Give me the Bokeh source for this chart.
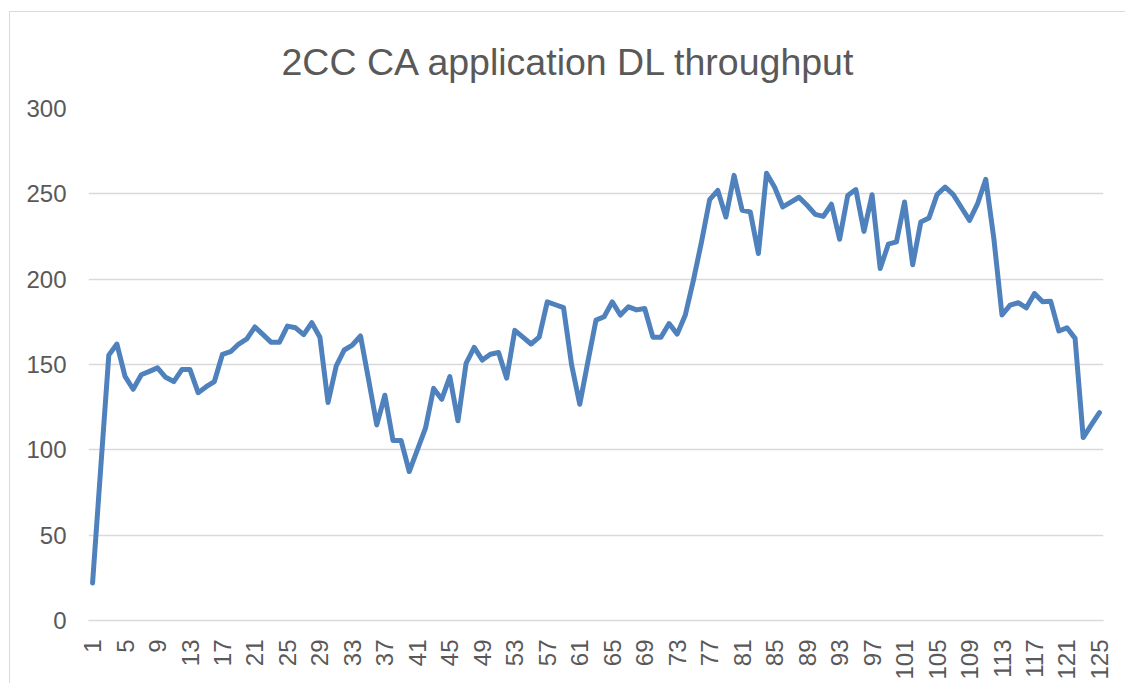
import math
from bokeh.plotting import figure
from bokeh.models import ColumnDataSource, FixedTicker, Range1d
from bokeh.embed import file_html
from bokeh.resources import INLINE

# ---- data ----
categories = list(range(1, 126))
throughput = [
    22, 89, 155.5, 162, 143, 135.5, 144, 146, 148, 142.5,
    140, 147, 147, 133.5, 137, 140, 156, 157.5, 162, 165,
    172, 167.5, 163, 163, 172.5, 171.5, 167.5, 174.5, 166, 127.7,
    149, 158.5, 161.4, 166.7, 141, 114.6, 132, 105.4, 105.4, 87.3,
    100, 112.7, 136, 129.6, 142.9, 117, 150.7, 160, 152.6, 156,
    157, 142, 170, 166, 162, 166, 186.7, 185, 183.3, 149.7,
    126.7, 151.6, 176, 178, 186.7, 179, 183.8, 182, 182.8, 166,
    166, 174, 167.8, 179, 199.4, 222, 246.6, 252, 236.4, 260.8,
    240.4, 239.4, 215, 262, 253.9, 242.3, 245.2, 248, 243.3, 238,
    236.8, 243.9, 223.4, 249, 252.5, 228, 249.5, 206.2, 220.5, 221.8,
    245.2, 208.5, 233.5, 235.8, 249.5, 254, 249.5, 242, 234.5, 244.3,
    258.5, 223.7, 179, 184.8, 186.2, 183.2, 191.6, 186.7, 187, 169.6,
    171.5, 165.3, 107.2, 114.6, 121.8,
]
x_tick_labels = list(range(1, 126, 4))
y_ticks = [0, 50, 100, 150, 200, 250, 300]
title_text = "2CC CA application DL throughput"

TEXT = "#595959"
GRID = "#d9d9d9"
LINE = "#4f81bd"
FONT = "Liberation Sans"

src = ColumnDataSource(data=dict(x=categories, y=throughput))

p = figure(
    frame_width=1015, frame_height=512,
    min_border_left=78, min_border_top=96, min_border_right=22, min_border_bottom=63,
    x_range=Range1d(0.5, 125.5), y_range=Range1d(0, 300),
    output_backend="svg", toolbar_location=None,
)
p.styles = {"border-left": "1px solid #d9d9d9", "border-top": "1px solid #d9d9d9",
            "margin-top": "11px", "margin-left": "9px"}

p.line("x", "y", source=src, line_color=LINE, line_width=5,
       line_join="round", line_cap="round")

p.title.text = title_text
p.title.align = "left"
p.title.offset = 193
p.title.vertical_align = "bottom"
p.title.standoff = 51
p.title.text_font = FONT
p.title.text_font_size = "37.5px"
p.title.text_font_style = "normal"
p.title.text_color = TEXT

p.outline_line_color = None
p.background_fill_color = "white"
p.border_fill_color = "white"

p.xgrid.grid_line_color = None
p.ygrid.grid_line_color = GRID
p.ygrid.grid_line_width = 1.5
p.ygrid.ticker = FixedTicker(ticks=y_ticks)

xa = p.xaxis[0]
xa.ticker = FixedTicker(ticks=x_tick_labels)
xa.major_label_orientation = math.pi / 2
xa.major_label_text_font = FONT
xa.major_label_text_font_size = "24px"
xa.major_label_text_color = TEXT
xa.major_label_standoff = 19
xa.major_tick_out = 0
xa.major_tick_in = 0
xa.minor_tick_out = 0
xa.minor_tick_in = 0
xa.major_tick_line_color = None
xa.minor_tick_line_color = None
xa.axis_line_color = GRID
xa.axis_line_width = 1.5

ya = p.yaxis[0]
ya.ticker = FixedTicker(ticks=y_ticks)
ya.major_label_text_font = FONT
ya.major_label_text_font_size = "24px"
ya.major_label_text_color = TEXT
ya.major_label_standoff = 22
ya.major_tick_out = 0
ya.major_tick_in = 0
ya.minor_tick_out = 0
ya.minor_tick_in = 0
ya.major_tick_line_color = None
ya.minor_tick_line_color = None
ya.axis_line_color = None

open("out.html", "w").write(file_html(p, INLINE))
